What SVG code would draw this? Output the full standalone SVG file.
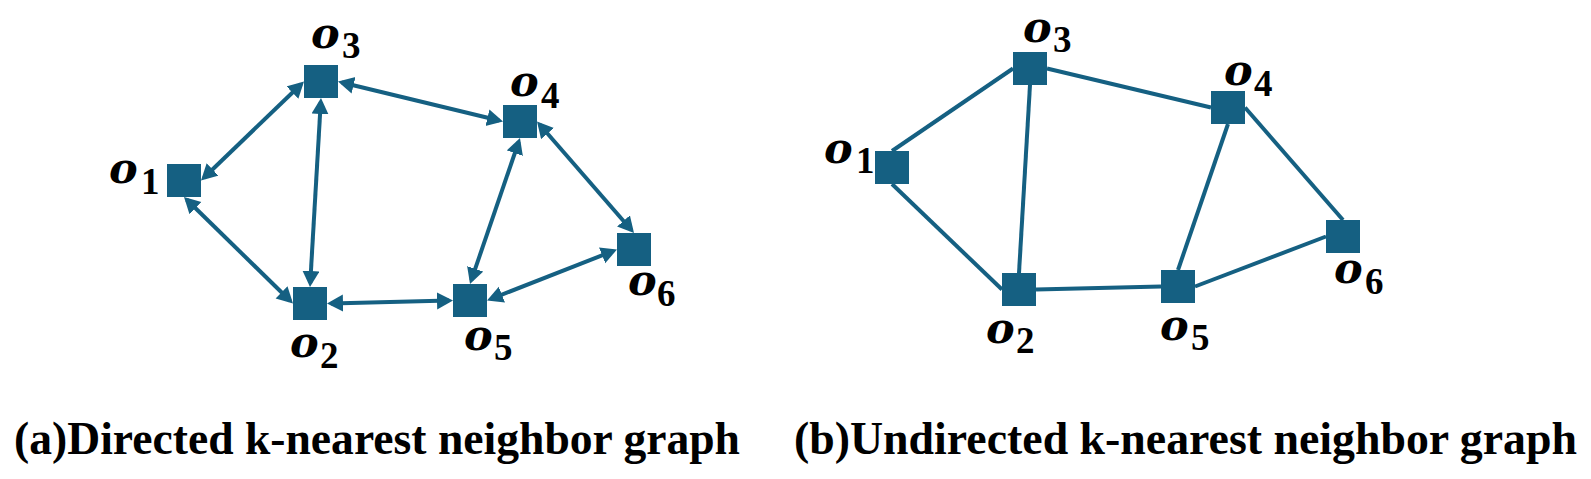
<svg xmlns="http://www.w3.org/2000/svg" width="1591" height="479" viewBox="0 0 1591 479">
<style>
.node{fill:#156082}
.edge{stroke:#156082;stroke-width:4;fill:none}
.arr{marker-start:url(#ah);marker-end:url(#ah)}
.o{font-family:"DejaVu Serif","Liberation Serif",serif;font-style:italic;font-weight:bold;font-size:43px;fill:#000}
.s{font-family:"Liberation Serif","Times New Roman",serif;font-style:normal;font-size:37px}
.cap{font-family:"Liberation Serif","Times New Roman",serif;font-weight:bold;font-size:46px;fill:#000}
</style>
<defs>
<marker id="ah" markerUnits="userSpaceOnUse" markerWidth="18" markerHeight="18" refX="12" refY="8.5" orient="auto-start-reverse" viewBox="0 0 18 18">
<path d="M0,0 L16,8.5 L0,17 z" fill="#156082"/>
</marker>
</defs>
<rect width="1591" height="479" fill="#fff"/>
<g id="connectors-a">
<line class="edge arr" x1="203.88" y1="177.73" x2="301.12" y2="84.27"/>
<line class="edge arr" x1="186.86" y1="199.8" x2="290.14" y2="300.7"/>
<line class="edge arr" x1="320.77" y1="101.99" x2="310.23" y2="283.01"/>
<line class="edge arr" x1="341.89" y1="82.44" x2="499.11" y2="120.56"/>
<line class="edge arr" x1="518.7" y1="141.78" x2="471.3" y2="280.22"/>
<line class="edge arr" x1="539.63" y1="124.52" x2="631.37" y2="229.98"/>
<line class="edge arr" x1="331" y1="303.4" x2="449" y2="300.6"/>
<line class="edge arr" x1="490.72" y1="299.04" x2="613.28" y2="250.96"/>
</g>
<g id="connectors-b">
<line class="edge" x1="892" y1="151" x2="1013" y2="68.5"/>
<line class="edge" x1="892" y1="184" x2="1002" y2="289.5"/>
<line class="edge" x1="1030" y1="85" x2="1019" y2="273"/>
<line class="edge" x1="1047" y1="68.5" x2="1211" y2="107.5"/>
<line class="edge" x1="1228" y1="124" x2="1178" y2="270"/>
<line class="edge" x1="1245" y1="107.5" x2="1343" y2="220"/>
<line class="edge" x1="1036" y1="289.5" x2="1161" y2="286.5"/>
<line class="edge" x1="1195" y1="286.5" x2="1326" y2="236.5"/>
</g>
<g id="a-o1"><rect class="node" x="167" y="164" width="34" height="33"/><text class="o" x="109" y="183">o<tspan class="s" x="141" y="194">1</tspan></text></g>
<g id="a-o2"><rect class="node" x="293" y="287" width="34" height="33"/><text class="o" x="290" y="357">o<tspan class="s" x="320" y="368">2</tspan></text></g>
<g id="a-o3"><rect class="node" x="304" y="65" width="34" height="33"/><text class="o" x="311" y="48">o<tspan class="s" x="342" y="58">3</tspan></text></g>
<g id="a-o4"><rect class="node" x="503" y="105" width="34" height="33"/><text class="o" x="510" y="96">o<tspan class="s" x="541" y="108">4</tspan></text></g>
<g id="a-o5"><rect class="node" x="453" y="284" width="34" height="33"/><text class="o" x="464" y="350">o<tspan class="s" x="494" y="360">5</tspan></text></g>
<g id="a-o6"><rect class="node" x="617" y="233" width="34" height="33"/><text class="o" x="628" y="295">o<tspan class="s" x="657" y="306">6</tspan></text></g>
<g id="b-o1"><rect class="node" x="875" y="151" width="34" height="33"/><text class="o" x="824" y="163">o<tspan class="s" x="856" y="173">1</tspan></text></g>
<g id="b-o2"><rect class="node" x="1002" y="273" width="34" height="33"/><text class="o" x="986" y="343">o<tspan class="s" x="1016" y="353">2</tspan></text></g>
<g id="b-o3"><rect class="node" x="1013" y="52" width="34" height="33"/><text class="o" x="1023" y="42">o<tspan class="s" x="1053" y="52">3</tspan></text></g>
<g id="b-o4"><rect class="node" x="1211" y="91" width="34" height="33"/><text class="o" x="1224" y="85">o<tspan class="s" x="1254" y="96">4</tspan></text></g>
<g id="b-o5"><rect class="node" x="1161" y="270" width="34" height="33"/><text class="o" x="1160" y="340">o<tspan class="s" x="1191" y="350">5</tspan></text></g>
<g id="b-o6"><rect class="node" x="1326" y="220" width="34" height="33"/><text class="o" x="1334" y="283">o<tspan class="s" x="1365" y="294">6</tspan></text></g>
<g id="captions">
<text class="cap" x="14" y="454" textLength="726" lengthAdjust="spacingAndGlyphs">(a)Directed k-nearest neighbor graph</text>
<text class="cap" x="794" y="454" textLength="783" lengthAdjust="spacingAndGlyphs">(b)Undirected k-nearest neighbor graph</text>
</g>
</svg>
